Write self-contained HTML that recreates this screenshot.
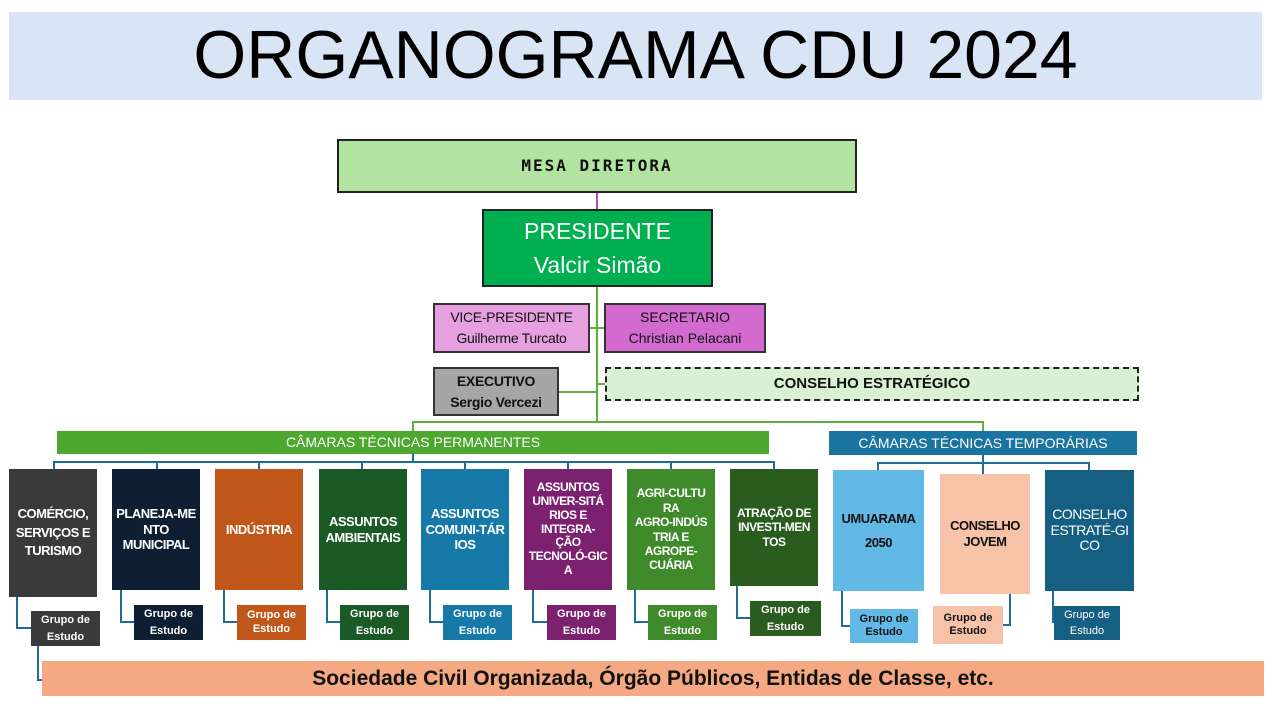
<!DOCTYPE html>
<html><head><meta charset="utf-8"><style>
*{margin:0;padding:0;box-sizing:border-box}
body{width:1280px;height:720px;background:#fff;position:relative;overflow:hidden;font-family:"Liberation Sans",sans-serif}
.b{position:absolute;display:flex;align-items:center;justify-content:center;text-align:center;flex-direction:column;color:#fff;font-weight:bold;line-height:1.2}
.c{font-size:13px;white-space:nowrap;letter-spacing:-0.5px;overflow:visible}
.g{font-size:11px;line-height:1.5}
svg{position:absolute;left:0;top:0}
</style></head><body>
<div class="b" style="left:9px;top:12px;width:1253px;height:88px;background:#d9e5f5;color:#000;font-weight:normal;font-size:68px;letter-spacing:0px">ORGANOGRAMA CDU 2024</div>
<svg width="1280" height="720">
<line x1="597" y1="193" x2="597" y2="209" stroke="#b04cb0" stroke-width="2"/>
<g stroke="#5bb039" stroke-width="2" fill="none">
<line x1="597" y1="287" x2="597" y2="423"/>
<line x1="590" y1="328" x2="604" y2="328"/>
<line x1="559" y1="392" x2="597" y2="392"/>
<line x1="597" y1="384" x2="605" y2="384"/>
<polyline points="413,431 413,422 983,422 983,431"/>
</g>
<g stroke="#1f6c96" stroke-width="2" fill="none">
<line x1="413" y1="454" x2="413" y2="462"/>
<polyline points="54,469 54,462 774,462 774,469"/>
<line x1="157" y1="462" x2="157" y2="469"/><line x1="259" y1="462" x2="259" y2="469"/>
<line x1="362" y1="462" x2="362" y2="469"/><line x1="465" y1="462" x2="465" y2="469"/>
<line x1="568" y1="462" x2="568" y2="469"/><line x1="671" y1="462" x2="671" y2="469"/>
<line x1="983" y1="455" x2="983" y2="474"/>
<polyline points="878,470 878,463 1089,463 1089,470"/>
<polyline points="17,597 17,628 31,628"/>
<polyline points="38,646 38,680 42,680"/>
<polyline points="121,590 121,622 134,622"/>
<polyline points="224,590 224,622 237,622"/>
<polyline points="327,590 327,622 340,622"/>
<polyline points="430,590 430,622 443,622"/>
<polyline points="533,590 533,622 547,622"/>
<polyline points="635,590 635,622 648,622"/>
<polyline points="737,586 737,618 750,618"/>
<polyline points="842,591 842,626 850,626"/>
<polyline points="1010,594 1010,625 1003,625"/>
<polyline points="1053,591 1053,622 1064,622"/>
</g>
</svg>
<div class="b" style="left:337px;top:139px;width:520px;height:54px;background:#b3e3a0;border:2px solid #222;color:#111;font-size:16px;letter-spacing:2px;font-family:'DejaVu Sans Mono',monospace">MESA DIRETORA</div>
<div class="b" style="left:482px;top:209px;width:231px;height:78px;background:#00b050;border:2px solid #222;font-weight:normal;font-size:23px;line-height:1.5">PRESIDENTE<br>Valcir Simão</div>
<div class="b" style="left:433px;top:303px;width:157px;height:50px;background:#e6a0e0;border:2px solid #333;color:#111;font-weight:normal;font-size:14px;line-height:1.5;letter-spacing:-0.3px">VICE-PRESIDENTE<br>Guilherme Turcato</div>
<div class="b" style="left:604px;top:303px;width:162px;height:50px;background:#d36ad0;border:2px solid #333;color:#111;font-weight:normal;font-size:14px;line-height:1.5">SECRETARIO<br>Christian Pelacani</div>
<div class="b" style="left:433px;top:367px;width:126px;height:49px;background:#a6a6a6;border:2px solid #333;color:#111;font-size:14px;line-height:1.5;letter-spacing:-0.3px">EXECUTIVO<br>Sergio Vercezi</div>
<div class="b" style="left:605px;top:367px;width:534px;height:34px;background:#d9f1d2;border:2px dashed #222;color:#111;font-size:15px">CONSELHO ESTRATÉGICO</div>
<div class="b" style="left:57px;top:431px;width:712px;height:23px;background:#4ea72e;font-weight:normal;font-size:14px">CÂMARAS TÉCNICAS PERMANENTES</div>
<div class="b" style="left:829px;top:431px;width:308px;height:24px;background:#1a74a0;font-weight:normal;font-size:14px">CÂMARAS TÉCNICAS TEMPORÁRIAS</div>

<div class="b c" style="left:9px;top:469px;width:88px;height:128px;background:#3a3a3a;line-height:1.45">COMÉRCIO,<br>SERVIÇOS E<br>TURISMO</div>
<div class="b c" style="left:112px;top:469px;width:88px;height:121px;background:#0f1f33">PLANEJA-ME<br>NTO<br>MUNICIPAL</div>
<div class="b c" style="left:215px;top:469px;width:88px;height:121px;background:#c0561a">INDÚSTRIA</div>
<div class="b c" style="left:319px;top:469px;width:88px;height:121px;background:#1b5a26">ASSUNTOS<br>AMBIENTAIS</div>
<div class="b c" style="left:421px;top:469px;width:88px;height:121px;background:#1779a8">ASSUNTOS<br>COMUNI-TÁR<br>IOS</div>
<div class="b c" style="left:524px;top:469px;width:88px;height:121px;background:#7b2170;font-size:12px;line-height:1.15">ASSUNTOS<br>UNIVER-SITÁ<br>RIOS E<br>INTEGRA-<br>ÇÃO<br>TECNOLÓ-GIC<br>A</div>
<div class="b c" style="left:627px;top:469px;width:88px;height:121px;background:#3f8a2a;font-size:12px">AGRI-CULTU<br>RA<br>AGRO-INDÚS<br>TRIA E<br>AGROPE-<br>CUÁRIA</div>
<div class="b c" style="left:730px;top:469px;width:88px;height:117px;background:#2a5b1f;font-size:12px">ATRAÇÃO DE<br>INVESTI-MEN<br>TOS</div>
<div class="b c" style="left:833px;top:470px;width:91px;height:121px;background:#63b9e5;color:#111;line-height:1.8">UMUARAMA<br>2050</div>
<div class="b c" style="left:940px;top:474px;width:90px;height:120px;background:#f6c2a8;color:#111">CONSELHO<br>JOVEM</div>
<div class="b c" style="left:1045px;top:470px;width:89px;height:121px;background:#155f82;font-weight:normal;font-size:14px;line-height:1.1">CONSELHO<br>ESTRATÉ-GI<br>CO</div>

<div class="b g" style="left:31px;top:611px;width:69px;height:35px;background:#3a3a3a">Grupo de<br>Estudo</div>
<div class="b g" style="left:134px;top:605px;width:69px;height:35px;background:#0f1f33">Grupo de<br>Estudo</div>
<div class="b g" style="left:237px;top:605px;width:69px;height:35px;background:#c0561a;line-height:1.2">Grupo de<br>Estudo</div>
<div class="b g" style="left:340px;top:605px;width:69px;height:35px;background:#1b5a26">Grupo de<br>Estudo</div>
<div class="b g" style="left:443px;top:605px;width:69px;height:35px;background:#1779a8">Grupo de<br>Estudo</div>
<div class="b g" style="left:547px;top:605px;width:69px;height:35px;background:#7b2170">Grupo de<br>Estudo</div>
<div class="b g" style="left:648px;top:605px;width:69px;height:35px;background:#3f8a2a">Grupo de<br>Estudo</div>
<div class="b g" style="left:750px;top:601px;width:71px;height:35px;background:#2a5b1f">Grupo de<br>Estudo</div>
<div class="b g" style="left:850px;top:609px;width:68px;height:34px;background:#63b9e5;color:#111;line-height:1.2">Grupo de<br>Estudo</div>
<div class="b g" style="left:933px;top:606px;width:70px;height:38px;background:#f6c2a8;color:#111;line-height:1.2">Grupo de<br>Estudo</div>
<div class="b g" style="left:1054px;top:606px;width:66px;height:34px;background:#155f82;font-weight:normal">Grupo de<br>Estudo</div>

<div class="b" style="left:42px;top:661px;width:1222px;height:35px;background:#f4a982;color:#111;font-size:21px">Sociedade Civil Organizada, Órgão Públicos, Entidas de Classe, etc.</div>
</body></html>
